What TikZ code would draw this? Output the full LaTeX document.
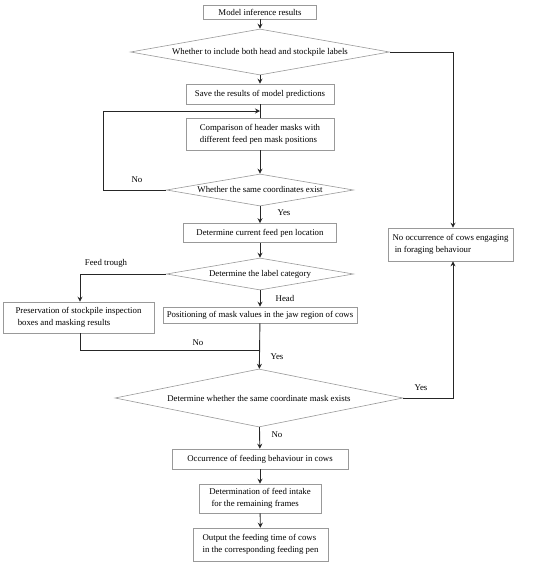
\documentclass[tikz,border=0pt]{standalone}
\usepackage{fontspec}
\setmainfont{Liberation Serif}
\usetikzlibrary{shapes.geometric,arrows.meta}
\tikzset{
	box/.style={draw=black!40, line width=0.6pt, inner sep=0pt, align=left, font=\fontsize{8.8}{12}\selectfont},
	decision/.style={draw=black!40, line width=0.6pt, diamond, inner sep=0pt, font=\fontsize{8.8}{10}\selectfont},
	flow/.style={line width=0.9pt, draw=black!85, -{Stealth[length=5pt,width=5pt]}},
	plain/.style={line width=0.9pt, draw=black!85},
	lbl/.style={font=\fontsize{8.8}{10}\selectfont, inner sep=0pt}
}

\begin{document}
\begin{tikzpicture}[x=1pt, y=-1pt]
			%%%%% START %%%%%
			\useasboundingbox (0, 0) rectangle (550, 566);
			
			\node[box, minimum width=113, minimum height=14] (infer) at (260, 12) {Model inference results};
			\node[decision, minimum width=259, minimum height=46, aspect=5.6] (both) at (260, 52) {Whether to include both head and stockpile labels};
			\node[box, minimum width=148, minimum height=20] (save) at (260, 94) {Save the results of model predictions};
			\node[box, minimum width=148, minimum height=32] (compare) at (260, 134) {Comparison of header masks with\\ different feed pen mask positions};
			\node[decision, minimum width=187, minimum height=32, aspect=5.8] (same) at (260, 190) {Whether the same coordinates exist};
			\node[box, minimum width=153, minimum height=19] (pen) at (260, 233) {Determine current feed pen location};
			\node[decision, minimum width=187, minimum height=32, aspect=5.8] (label) at (260, 274) {Determine the label category};
			\node[box, minimum width=151, minimum height=31] (keep) at (78.5, 317.5) {Preservation of stockpile inspection\\ \ boxes and masking results};
			\node[box, minimum width=194, minimum height=16] (jaw) at (260, 315) {Positioning of mask values in the jaw region of cows};
			\node[decision, minimum width=288, minimum height=58, aspect=5] (mask) at (259, 398) {Determine whether the same coordinate mask exists};
			\node[box, minimum width=125, minimum height=33] (none) at (450.5, 244.5) {No occurrence of cows engaging\\ \ in foraging behaviour};
			\node[box, minimum width=176, minimum height=20] (feed) at (260, 459) {Occurrence of feeding behaviour in cows};
			\node[box, minimum width=122, minimum height=29] (intake) at (260, 498.5) {Determination of feed intake\\ \ for the remaining frames};
			\node[box, minimum width=135, minimum height=33] (time) at (260.5, 544.5) {Output the feeding time of cows\\ in the corresponding feeding pen};
			
			\coordinate (loop) at (103, 111);
			\coordinate (join) at (260, 350);
			
			\draw[flow] (infer) -- (both);
			\draw[flow] (both) -- (save);
			\draw[plain] (save) -- (compare);
			\draw[flow] (same.west) -- (loop |- same.west) -- (loop) -- (save.south |- loop);
			\draw[flow] (compare) -- (same);
			\draw[flow] (same) -- (pen);
			\draw[flow] (pen) -- (label);
			\draw[flow] (label.west) -| (keep.north -| 80, 0);
			\draw[flow] (label) -- (jaw);
			\draw[plain] (keep.south -| 80, 0) |- (join);
			\draw[flow] (jaw) -- (mask);
			\draw[flow] (mask.east) -| (none.south -| 453, 0);
			\draw[flow] (both.east) -| (none.north -| 453, 0);
			\draw[flow] (mask) -- (feed);
			\draw[flow] (feed) -- (intake);
			\draw[flow] (intake) -- (time);
			
			\node[lbl] (no1) at (137, 180) {No};
			\node[lbl] (yes1) at (284, 213) {Yes};
			\node[lbl] (trough) at (106, 263) {Feed trough};
			\node[lbl] (head) at (285, 298) {Head};
			\node[lbl] (no2) at (198, 343) {No};
			\node[lbl] (yes2) at (277, 357) {Yes};
			\node[lbl] (yes3) at (421, 388) {Yes};
			\node[lbl] (no3) at (277, 435) {No};
			
			%%%%% END %%%%%
\end{tikzpicture}
\end{document}
